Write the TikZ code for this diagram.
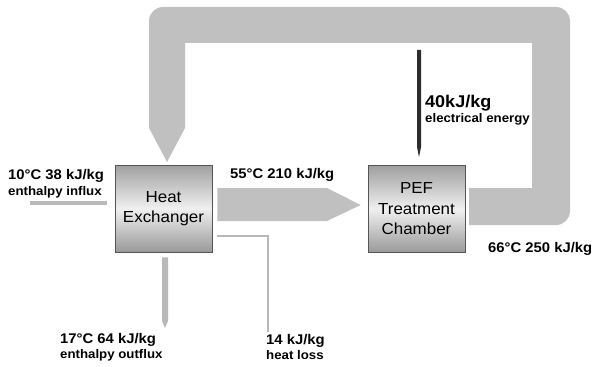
\documentclass[tikz,border=0pt]{standalone}
\usepackage{fontspec}
\setmainfont{Liberation Sans}[FakeStretch=1.06]
\usetikzlibrary{calc}
\definecolor{band}{RGB}{192,192,192}
\definecolor{flowgray}{RGB}{185,185,185}
\definecolor{boxline}{RGB}{85,85,85}
\definecolor{elec}{RGB}{45,45,45}
\begin{document}
\begin{tikzpicture}[x=1pt,y=-1pt,
  unit/.style={draw=boxline,line width=0.8pt,minimum width=97pt,minimum height=87pt,
    top color=gray!75,bottom color=gray!80,middle color=gray!12,
    align=center,inner sep=0pt,font=\fontsize{16}{20.5}\selectfont},
  val/.style={anchor=base west,inner sep=0pt,font=\fontsize{14}{16}\selectfont\bfseries},
  sub/.style={anchor=base west,inner sep=0pt,font=\fontsize{12.5}{14}\selectfont\bfseries},
  bigval/.style={anchor=base west,inner sep=0pt,font=\fontsize{17}{19}\selectfont\bfseries}]
\useasboundingbox (0,0) rectangle (593,366);
% recycle loop band
\fill[band] (469,188) -- (532,188) -- (532,43) -- (185,43) -- (185,128) -- (167,162)
  -- (149,128) -- (149,110) [rounded corners=14pt] -- (149,7) -- (570,7) -- (570,225)
  -- (550,225) [sharp corners] -- (469,225) -- cycle;
% boxes
\node[unit] (he) at (163.5,208.5) {Heat\\Exchanger};
\node[unit] (pef) at (416.5,209) {PEF\\Treatment\\Chamber};
% middle flow
\fill[band] ($(he.east)+(5,-20.5)$) -- (327,188) -- ($(pef.west)+(-7,-4)$) -- (327,221) -- ($(he.east)+(5,12.5)$) -- cycle;
% electrical energy
\coordinate (etop) at (419,50);
\fill[elec] ($(etop)+(-2,0)$) -- ($(etop)+(2,0)$) -- (421,147) -- ($(pef.north)+(2.5,-8)$) -- (417,147) -- cycle;
% influx
\coordinate (inflow) at (30,203);
\draw[flowgray,line width=4pt] (inflow) -- ($(he.west)+(-8,-5.5)$);
% outflux
\coordinate (outflow) at (165,328);
\fill[flowgray] ($(he.south)+(-1.5,5)$) -- ($(he.south)+(4.5,5)$) -- (168,321) -- (outflow) -- (162,321) -- cycle;
% heat loss
\coordinate (loss) at (268,332);
\draw[flowgray,line width=2pt] ($(he.east)+(5,27.5)$) -| (loss);
% labels
\node[val] (l1) at (8,179) {10°C 38 kJ/kg};
\node[sub] (l1s) at (8,195) {enthalpy influx};
\node[val] (l2) at (230,178) {55°C 210 kJ/kg};
\node[bigval] (l3) at (425,108) {40kJ/kg};
\node[sub] (l3s) at (425,123) {electrical energy};
\node[val] (l4) at (488,252) {66°C 250 kJ/kg};
\node[val] (l5) at (60,343) {17°C 64 kJ/kg};
\node[sub] (l5s) at (60,358) {enthalpy outflux};
\node[val] (l6) at (266,344) {14 kJ/kg};
\node[sub] (l6s) at (266,359) {heat loss};
\end{tikzpicture}
\end{document}
